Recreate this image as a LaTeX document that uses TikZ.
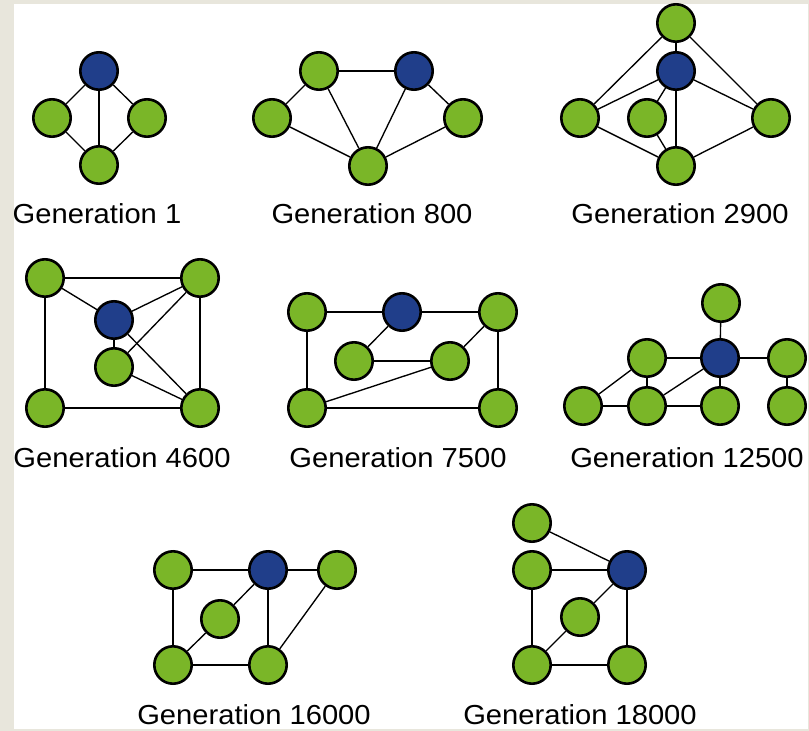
\documentclass[tikz,border=0pt]{standalone}
\usepackage{fontspec}
\setmainfont{Liberation Sans}
\definecolor{frameBeige}{RGB}{232,230,220}
\definecolor{nodeGreen}{RGB}{122,182,40}
\definecolor{nodeBlue}{RGB}{32,62,138}
\tikzset{
    gnode/.style={circle, draw=black, line width=2.6pt, fill=nodeGreen, minimum size=37.4pt, inner sep=0pt},
    bnode/.style={gnode, fill=nodeBlue},
    edge/.style={black, line width=1.35pt},
    genlabel/.style={anchor=base, xscale=1.06, font=\fontsize{27.5}{30}\selectfont}
}
\begin{document}
\begin{tikzpicture}[x=1pt, y=-1pt]
    % 背景与边框
    \fill[frameBeige] (0,0) rectangle (809,731);
    \fill[white] (14,4) rectangle (808,729);
    \useasboundingbox (0,0) rectangle (809,731);

    % Generation 1
    \node[bnode] (a0) at (99,71) {};
    \node[gnode] (a1) at (52,118) {};
    \node[gnode] (a2) at (147,118) {};
    \node[gnode] (a3) at (99,165) {};
    \foreach \u/\v in {a0/a1, a0/a2, a0/a3, a1/a3, a2/a3}
        \draw[edge] (\u) -- (\v);
    \node[genlabel] (la) at (97,223) {Generation 1};

    % Generation 800
    \node[gnode] (b1) at (319,71) {};
    \node[bnode] (b0) at (414,71) {};
    \node[gnode] (b2) at (272,118) {};
    \node[gnode] (b3) at (463,118) {};
    \node[gnode] (b4) at (368,166) {};
    \foreach \u/\v in {b1/b0, b1/b2, b1/b4, b0/b4, b0/b3, b2/b4, b3/b4}
        \draw[edge] (\u) -- (\v);
    \node[genlabel] (lb) at (372,223) {Generation 800};

    % Generation 2900
    \node[gnode] (c1) at (676,23) {};
    \node[bnode] (c0) at (676,71) {};
    \node[gnode] (c2) at (580,118) {};
    \node[gnode] (c3) at (647,118) {};
    \node[gnode] (c4) at (771,118) {};
    \node[gnode] (c5) at (676,166) {};
    \foreach \u/\v in {c1/c0, c1/c2, c1/c4, c0/c2, c0/c3, c0/c5, c0/c4, c2/c5, c3/c5, c4/c5}
        \draw[edge] (\u) -- (\v);
    \node[genlabel] (lc) at (680,223) {Generation 2900};

    % Generation 4600
    \node[gnode] (d1) at (45,278) {};
    \node[gnode] (d2) at (200,278) {};
    \node[bnode] (d0) at (114,320) {};
    \node[gnode] (d3) at (114,367) {};
    \node[gnode] (d4) at (45,408) {};
    \node[gnode] (d5) at (200,408) {};
    \foreach \u/\v in {d1/d2, d1/d4, d1/d0, d0/d2, d3/d2, d0/d3, d0/d5, d3/d5, d2/d5, d4/d5}
        \draw[edge] (\u) -- (\v);
    \node[genlabel] (ld) at (122,467) {Generation 4600};

    % Generation 7500
    \node[gnode] (e1) at (307,312) {};
    \node[bnode] (e0) at (402,312) {};
    \node[gnode] (e2) at (498,312) {};
    \node[gnode] (e3) at (354,361) {};
    \node[gnode] (e4) at (450,361) {};
    \node[gnode] (e5) at (307,408) {};
    \node[gnode] (e6) at (498,408) {};
    \foreach \u/\v in {e1/e0, e0/e2, e1/e5, e2/e6, e5/e6, e0/e3, e3/e4, e4/e2, e5/e4}
        \draw[edge] (\u) -- (\v);
    \node[genlabel] (le) at (398,467) {Generation 7500};

    % Generation 12500
    \node[gnode] (f1) at (721,303) {};
    \node[bnode] (f0) at (720,358) {};
    \node[gnode] (f2) at (647,358) {};
    \node[gnode] (f3) at (787,358) {};
    \node[gnode] (f4) at (583,406) {};
    \node[gnode] (f5) at (647,406) {};
    \node[gnode] (f6) at (720,406) {};
    \node[gnode] (f7) at (787,406) {};
    \foreach \u/\v in {f1/f0, f2/f0, f0/f3, f3/f7, f4/f2, f4/f5, f2/f5, f5/f0, f5/f6, f0/f6}
        \draw[edge] (\u) -- (\v);
    \node[genlabel] (lf) at (687,467) {Generation 12500};

    % Generation 16000
    \node[gnode] (g1) at (173,570) {};
    \node[bnode] (g0) at (268,570) {};
    \node[gnode] (g2) at (337,570) {};
    \node[gnode] (g3) at (220,619) {};
    \node[gnode] (g4) at (173,665) {};
    \node[gnode] (g5) at (268,665) {};
    \foreach \u/\v in {g1/g0, g0/g2, g1/g4, g4/g5, g0/g5, g0/g3, g3/g4, g2/g5}
        \draw[edge] (\u) -- (\v);

    % Generation 18000
    \node[gnode] (h1) at (532,523) {};
    \node[gnode] (h2) at (532,570) {};
    \node[bnode] (h0) at (627,570) {};
    \node[gnode] (h3) at (580,617) {};
    \node[gnode] (h4) at (532,665) {};
    \node[gnode] (h5) at (627,665) {};
    \foreach \u/\v in {h1/h0, h2/h0, h2/h4, h0/h5, h4/h5, h0/h3, h3/h4}
        \draw[edge] (\u) -- (\v);

    % 底边
    \fill[frameBeige] (0,729) rectangle (809,731);
    \node[genlabel] (lg) at (254,724) {Generation 16000};
    \node[genlabel] (lh) at (580,724) {Generation 18000};
\end{tikzpicture}
\end{document}
